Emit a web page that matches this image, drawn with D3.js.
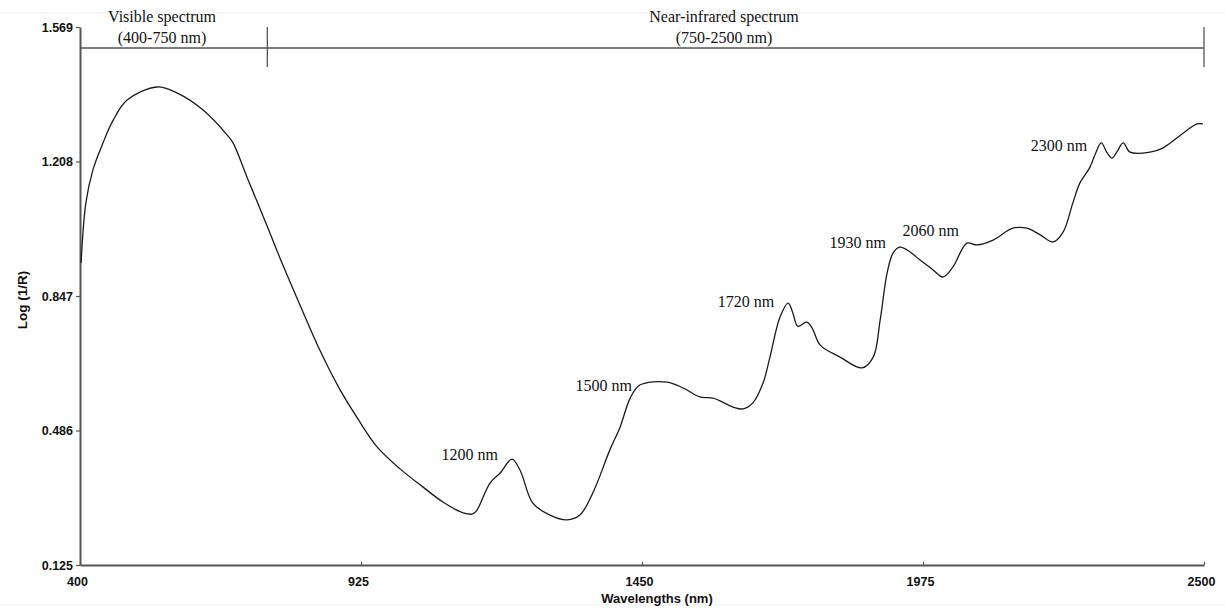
<!DOCTYPE html>
<html>
<head>
<meta charset="utf-8">
<script src="https://cdn.jsdelivr.net/npm/d3@7"></script>
<style>
  html, body { margin: 0; padding: 0; background: #fff; }
  svg { display: block; }
  .tick text { font-family: "Liberation Sans", Arial, sans-serif; font-weight: bold; font-size: 12.5px; fill: #111; }
  .serif { font-family: "Liberation Serif", "Times New Roman", serif; font-size: 16px; fill: #111; }
</style>
</head>
<body>
<svg id="chart" width="1225" height="613"></svg>
<script>
// Reflectance spectrum, log(1/R) against wavelength (nm)
const wavelengths = [402, 411, 424, 443, 462, 488, 544, 581, 630, 675, 686, 712, 749, 779, 811, 848, 886, 918, 955, 998,
  1041, 1078, 1116, 1134, 1142, 1166, 1185, 1207, 1222, 1246, 1278, 1310, 1334, 1358, 1390, 1409, 1428, 1446, 1497, 1527,
  1558, 1583, 1620, 1639, 1657, 1676, 1689, 1708, 1723, 1732, 1741, 1758, 1768, 1783, 1820, 1861, 1882, 1895, 1908, 1919,
  1932, 1951, 1969, 1994, 2012, 2031, 2057, 2076, 2106, 2143, 2169, 2194, 2218, 2237, 2255, 2268, 2287, 2296, 2308, 2319,
  2328, 2337, 2349, 2362, 2399, 2423, 2461, 2487, 2498];
const logInvR = [0.936, 1.097, 1.185, 1.258, 1.319, 1.373, 1.408, 1.392, 1.346, 1.279, 1.258, 1.166, 1.037, 0.930, 0.823, 0.702, 0.595, 0.520, 0.442, 0.383,
  0.334, 0.294, 0.265, 0.262, 0.273, 0.345, 0.372, 0.409, 0.380, 0.291, 0.259, 0.246, 0.259, 0.318, 0.434, 0.495, 0.573, 0.608, 0.616, 0.600,
  0.576, 0.573, 0.549, 0.544, 0.560, 0.613, 0.683, 0.791, 0.828, 0.801, 0.766, 0.777, 0.761, 0.715, 0.683, 0.654, 0.683, 0.783, 0.909, 0.962,
  0.978, 0.965, 0.944, 0.917, 0.898, 0.925, 0.989, 0.984, 0.997, 1.029, 1.029, 1.011, 0.992, 1.019, 1.097, 1.150, 1.193, 1.225, 1.258, 1.231,
  1.217, 1.233, 1.258, 1.233, 1.233, 1.244, 1.284, 1.309, 1.309];

const xTicks = [400, 925, 1450, 1975, 2500];
const yTicks = [0.125, 0.486, 0.847, 1.208, 1.569];

// Absorption band annotations: text and the wavelength of the feature it names
const bandLabels = ["1200 nm", "1500 nm", "1720 nm", "1930 nm", "2060 nm", "2300 nm"];
const bandAt = [1207, 1446, 1723, 1932, 2057, 2308];

// Spectral regions shown above the plot
const regionNames = ["Visible spectrum", "Near-infrared spectrum"];
const regionRanges = ["(400-750 nm)", "(750-2500 nm)"];
const regionBounds = [[400, 750], [750, 2500]];

const W = 1225, H = 613;
const margin = { top: 27, right: 21, bottom: 48, left: 80 };
const svg = d3.select("#chart");

const x = d3.scaleLinear().domain([400, 2500]).range([margin.left, W - margin.right]);
const y = d3.scaleLinear().domain([0.125, 1.569]).range([H - margin.bottom, margin.top]);

// faint page edges
svg.append("line").attr("x1", 0).attr("x2", W).attr("y1", 13).attr("y2", 13).attr("stroke", "#eeeeee");
svg.append("line").attr("x1", 0).attr("x2", W).attr("y1", 605).attr("y2", 605).attr("stroke", "#eeeeee");

// axes
const xAxis = svg.append("g")
  .attr("transform", `translate(0,${H - margin.bottom})`)
  .call(d3.axisBottom(x).tickValues(xTicks).tickFormat(d3.format("d")).tickSizeInner(-3).tickSizeOuter(0).tickPadding(12));
const yAxis = svg.append("g")
  .attr("transform", `translate(${margin.left},0)`)
  .call(d3.axisLeft(y).tickValues(yTicks).tickFormat(d3.format(".3f")).tickSizeInner(4).tickSizeOuter(0).tickPadding(3));
[xAxis, yAxis].forEach(g => {
  g.select(".domain").attr("stroke", "#555").attr("stroke-width", 2);
  g.selectAll(".tick line").attr("stroke", "#555").attr("stroke-width", 1.2);
});
xAxis.selectAll(".tick text").attr("dx", -3);

// axis titles
svg.append("text")
  .attr("x", 657).attr("y", 603)
  .attr("text-anchor", "middle")
  .style("font-family", "'Liberation Sans', Arial, sans-serif")
  .style("font-weight", "bold").style("font-size", "13px").style("fill", "#111")
  .text("Wavelengths (nm)");
svg.append("text")
  .attr("transform", "translate(27,300) rotate(-90)")
  .attr("text-anchor", "middle")
  .style("font-family", "'Liberation Sans', Arial, sans-serif")
  .style("font-weight", "bold").style("font-size", "13.5px").style("fill", "#111")
  .text("Log (1/R)");

// region bracket along the top
const bracketY = 48;
svg.append("line")
  .attr("x1", x(400)).attr("x2", x(2500))
  .attr("y1", bracketY).attr("y2", bracketY)
  .attr("stroke", "#555").attr("stroke-width", 1.5);
[regionBounds[0][1], regionBounds[1][1]].forEach(b => {
  svg.append("line")
    .attr("x1", x(b)).attr("x2", x(b))
    .attr("y1", margin.top).attr("y2", 67)
    .attr("stroke", "#555").attr("stroke-width", 1.3);
});
const regionCenters = [162, 724];
regionNames.forEach((name, i) => {
  svg.append("text").attr("class", "serif")
    .attr("x", regionCenters[i]).attr("y", 22)
    .attr("text-anchor", "middle").text(name);
  svg.append("text").attr("class", "serif")
    .attr("x", regionCenters[i]).attr("y", 43)
    .attr("text-anchor", "middle").text(regionRanges[i]);
});

// spectrum curve
const pts = wavelengths.map((w, i) => [w, logInvR[i]]);
const line = d3.line().x(d => x(d[0])).y(d => y(d[1])).curve(d3.curveCatmullRom.alpha(0.5));
svg.append("path")
  .datum(pts)
  .attr("d", line)
  .attr("fill", "none")
  .attr("stroke", "#1a1a1a")
  .attr("stroke-width", 1.3)
  .attr("stroke-linejoin", "round");

// band labels, placed just left of each feature
const valueAt = w => {
  const i = wavelengths.indexOf(w);
  return logInvR[i];
};
const labelOffsets = [[-14, 1], [-8, 6], [-14, 4], [-14, 1], [-8, -7], [-14, 8]];
bandLabels.forEach((t, i) => {
  const w = bandAt[i];
  svg.append("text").attr("class", "serif")
    .attr("x", x(w) + labelOffsets[i][0])
    .attr("y", y(valueAt(w)) + labelOffsets[i][1])
    .attr("text-anchor", "end")
    .text(t);
});
</script>
</body>
</html>
